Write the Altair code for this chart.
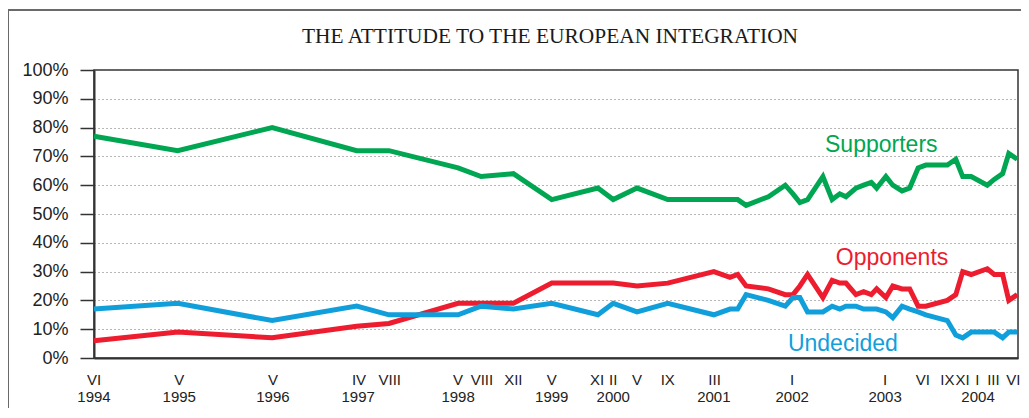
import altair as alt
import pandas as pd

# survey positions, in months since June 1994
survey_month = [0, 10.9, 23.2, 34.2, 38.4, 47.4, 50.4, 54.6, 59.6, 65.6,
                67.6, 70.7, 74.7, 80.7, 82.8, 83.8, 84.9, 87.8, 90.0, 91.0,
                91.9, 92.9, 94.9, 96.1, 97.1, 97.9, 99.2, 100.2, 101.2, 101.9,
                103.1, 104.0, 105.2, 106.2, 107.3, 108.3, 111.1, 112.2, 113.1, 114.2,
                116.3, 117.2, 118.3, 119.1, 120.2]

supporters = [77, 72, 80, 72, 72, 66, 63, 64, 55, 59,
              55, 59, 55, 55, 55, 55, 53, 56, 60, 57,
              54, 55, 63, 55, 57, 56, 59, 60, 61, 59,
              63, 60, 58, 59, 66, 67, 67, 69, 63, 63,
              60, 62, 64, 71, 69]

opponents = [6, 9, 7, 11, 12, 19, 19, 19, 26, 26,
             26, 25, 26, 30, 28, 29, 25, 24, 22, 22,
             25, 29, 21, 27, 26, 26, 22, 23, 22, 24,
             21, 25, 24, 24, 18, 18, 20, 22, 30, 29,
             31, 29, 29, 20, 22]

undecided = [17, 19, 13, 18, 15, 15, 18, 17, 19, 15,
             19, 16, 19, 15, 17, 17, 22, 20, 18, 21,
             21, 16, 16, 18, 17, 18, 18, 17, 17, 17,
             16, 14, 18, 17, 16, 15, 13, 8, 7, 9,
             9, 9, 7, 9, 9]

series_names = ["Supporters", "Opponents", "Undecided"]
series_colors = ["#00a651", "#ed1c2e", "#119fdb"]

# in-chart series labels
label_month = [102.5, 103.9, 97.5]
label_value = [71.7, 32.3, 2.3]

# x-axis tick labels
tick_month = [0, 11.1, 23.3, 34.5, 38.5, 47.4, 50.5, 54.6, 59.6, 65.5,
              67.6, 70.7, 74.7, 80.8, 90.9, 103.0, 107.9, 111.1, 113.1, 115.0,
              117.1, 119.7]
tick_roman = ["VI", "V", "V", "IV", "VIII", "V", "VIII", "XII", "V", "XI",
              "II", "V", "IX", "III", "I", "I", "VI", "IX", "XI", "I",
              "III", "VI"]
year_month = [0, 11.1, 23.3, 34.4, 47.4, 59.6, 67.6, 80.7, 90.9, 103.0, 115.1]
year_text = ["1994", "1995", "1996", "1997", "1998", "1999", "2000", "2001",
             "2002", "2003", "2004"]

y_ticks = list(range(0, 101, 10))

title_text = "THE ATTITUDE TO THE EUROPEAN INTEGRATION"

rows = []
for name, vals in zip(series_names, [supporters, opponents, undecided]):
    for m, v in zip(survey_month, vals):
        rows.append({"m": m, "v": v, "series": name})
df = pd.DataFrame(rows)

lab_df = pd.DataFrame({"m": label_month, "v": label_value, "series": series_names})
tick_df = pd.DataFrame({"m": tick_month, "t": tick_roman})
year_df = pd.DataFrame({"m": year_month, "t": year_text})

x_scale = alt.Scale(domain=[0, 120.3], nice=False, zero=False)
y_scale = alt.Scale(domain=[0, 100], nice=False)
color_scale = alt.Scale(domain=series_names, range=series_colors)

x_axis = alt.Axis(title=None, labels=False, ticks=False, grid=False,
                  domainColor="#333333", domainWidth=2)
y_axis = alt.Axis(title=None, values=y_ticks, tickCount=11,
                  labelExpr="datum.value + '%'", labelFont="Liberation Sans",
                  labelFontSize=18, labelColor="#222222", labelPadding=12,
                  labelOverlap=False,
                  tickSize=14, tickColor="#333333", tickWidth=1.5,
                  domainColor="#333333", domainWidth=2,
                  grid=True, gridDash=[1, 3], gridColor="#6f6f6f", gridWidth=1)

frame = alt.Chart(pd.DataFrame({"k": [0]})).mark_rect(
    fillOpacity=0, stroke="#6a6a6a", strokeWidth=2
).encode(x=alt.value(-86), x2=alt.value(1000), y=alt.value(-60), y2=alt.value(420))

title = alt.Chart(pd.DataFrame({"t": [title_text]})).mark_text(
    font="Liberation Serif", fontSize=21.4, baseline="alphabetic", align="center",
    color="#1a1a1a"
).encode(x=alt.value(456), y=alt.value(-27), text="t:N")

lines = alt.Chart(df).mark_line(strokeWidth=5, strokeJoin="miter").encode(
    x=alt.X("m:Q", scale=x_scale, axis=x_axis),
    y=alt.Y("v:Q", scale=y_scale, axis=y_axis),
    color=alt.Color("series:N", scale=color_scale, legend=None),
    order=alt.Order("m:Q"),
)

labels = alt.Chart(lab_df).mark_text(
    font="Liberation Sans", fontSize=23, baseline="alphabetic", align="center"
).encode(
    x=alt.X("m:Q", scale=x_scale, axis=None),
    y=alt.Y("v:Q", scale=y_scale, axis=None),
    text="series:N",
    color=alt.Color("series:N", scale=color_scale, legend=None),
)

months = alt.Chart(tick_df).mark_text(
    font="Liberation Sans", fontSize=15, baseline="middle", align="center", color="#222222"
).encode(x=alt.X("m:Q", scale=x_scale, axis=None), y=alt.value(310), text="t:N")

years = alt.Chart(year_df).mark_text(
    font="Liberation Sans", fontSize=15, baseline="middle", align="center", color="#222222"
).encode(x=alt.X("m:Q", scale=x_scale, axis=None), y=alt.value(327), text="t:N")

chart = alt.layer(frame, title, lines, labels, months, years).properties(
    width=924, height=288,
    autosize=alt.AutoSizeParams(type="none"),
    padding={"left": 86, "top": 62, "right": 3, "bottom": 50},
).resolve_axis(x="independent", y="independent").configure_view(
    stroke="#333333", strokeWidth=1.5)

chart.save("out.html", embed_options={"renderer": "svg", "actions": False})
